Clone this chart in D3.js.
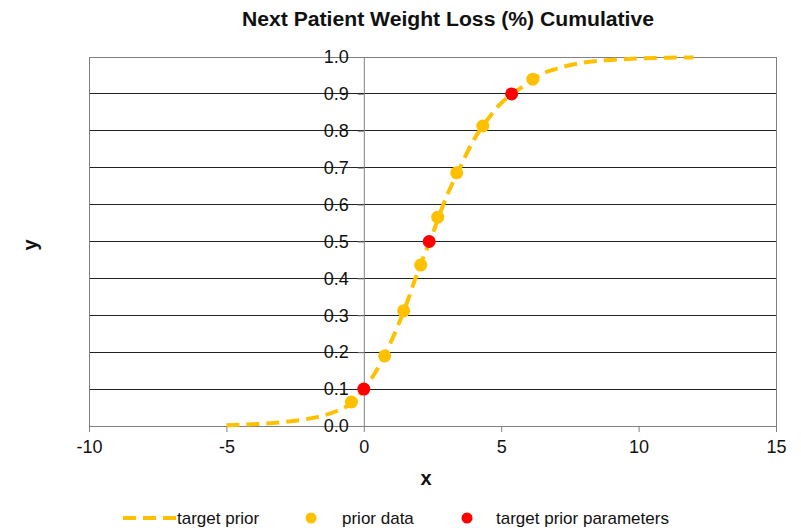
<!DOCTYPE html>
<html><head><meta charset="utf-8">
<script src="https://cdn.jsdelivr.net/npm/d3@7"></script>
<style>body{margin:0;background:#fff;}svg{display:block;font-family:"Liberation Sans",Arial,sans-serif;}</style>
</head><body>
<script>
// Target prior cumulative curve
const curveX = [-5, -4, -3, -2, -1.5, -1, -0.5, 0, 0.5, 1, 1.5, 2, 2.4, 3, 3.5, 4, 4.5, 5, 5.4, 6, 6.5, 7, 8, 9, 10, 11, 12];
const curveY = [0.002, 0.005, 0.01, 0.02, 0.028, 0.04, 0.06, 0.1, 0.155, 0.23, 0.32, 0.425, 0.5, 0.62, 0.7, 0.775, 0.83, 0.875, 0.9, 0.93, 0.955, 0.968, 0.985, 0.992, 0.996, 0.998, 0.999];
// prior data
const priorX = [-0.45, 0.76, 1.45, 2.07, 2.69, 3.38, 4.33, 6.15];
const priorY = [0.065, 0.19, 0.312, 0.436, 0.566, 0.686, 0.813, 0.94];
// target prior parameters
const paramX = [0, 2.38, 5.38];
const paramY = [0.1, 0.5, 0.9];
const xTicks = [-10, -5, 0, 5, 10, 15];
const yTicks = [0, 0.1, 0.2, 0.3, 0.4, 0.5, 0.6, 0.7, 0.8, 0.9, 1.0];
const legendLabels = ["target prior", "prior data", "target prior parameters"];

const W = 801, H = 528;
const L = 89, R = 776, T = 57, B = 426;
const gold = "#FFC000", red = "#FF0000";
const FF = "Liberation Sans, Arial, sans-serif";

const svg = d3.select("body").append("svg").attr("width", W).attr("height", H);
const x = d3.scaleLinear().domain([-10, 15]).range([L, R]);
const y = d3.scaleLinear().domain([0, 1]).range([B, T]);

// title
svg.append("text").attr("x", 448).attr("y", 26).attr("text-anchor", "middle")
  .attr("font-size", 20).attr("font-weight", "bold").attr("fill", "#111")
  .attr("textLength", 412).attr("lengthAdjust", "spacingAndGlyphs")
  .text("Next Patient Weight Loss (%) Cumulative");

// gridlines
svg.append("g").selectAll("line").data(yTicks).join("line")
  .attr("x1", L).attr("x2", R).attr("y1", d => y(d)).attr("y2", d => y(d))
  .attr("stroke", "#222").attr("stroke-width", 1).attr("shape-rendering", "crispEdges");
// plot border
svg.append("rect").attr("x", L).attr("y", T).attr("width", R - L).attr("height", B - T)
  .attr("fill", "none").attr("stroke", "#808080").attr("shape-rendering", "crispEdges");

// x axis at y=0
const xAxis = d3.axisBottom(x).tickValues(xTicks).tickSize(6).tickPadding(8).tickFormat(d => String(d));
const gx = svg.append("g").attr("transform", `translate(0,${B})`).call(xAxis);
gx.select(".domain").attr("stroke", "#808080");
gx.selectAll(".tick line").attr("stroke", "#808080");
gx.selectAll("text").attr("font-size", 18).attr("fill", "#111").attr("font-family", FF);

// y axis at x=0
const yAxis = d3.axisLeft(y).tickValues(yTicks).tickSize(6).tickPadding(9).tickFormat(d3.format(".1f"));
const gy = svg.append("g").attr("transform", `translate(${x(0)},0)`).call(yAxis);
gy.select(".domain").attr("stroke", "#808080");
gy.selectAll(".tick line").attr("stroke", "#808080");
gy.selectAll("text").attr("font-size", 18).attr("fill", "#111").attr("font-family", FF);

// axis titles
svg.append("text").attr("x", 426).attr("y", 485).attr("text-anchor", "middle")
  .attr("font-size", 20).attr("font-weight", "bold").attr("fill", "#111").text("x");
svg.append("text").attr("transform", "translate(37,245) rotate(-90)").attr("text-anchor", "middle")
  .attr("font-size", 20).attr("font-weight", "bold").attr("fill", "#111").text("y");

// curve
const line = d3.line().x(d => x(d[0])).y(d => y(d[1])).curve(d3.curveMonotoneX);
svg.append("path").datum(d3.zip(curveX, curveY)).attr("d", line)
  .attr("fill", "none").attr("stroke", gold).attr("stroke-width", 4)
  .attr("stroke-dasharray", "13,7");

// prior data points
svg.append("g").selectAll("circle").data(d3.zip(priorX, priorY)).join("circle")
  .attr("cx", d => x(d[0])).attr("cy", d => y(d[1])).attr("r", 6.5).attr("fill", gold);
// target prior parameters
svg.append("g").selectAll("circle").data(d3.zip(paramX, paramY)).join("circle")
  .attr("cx", d => x(d[0])).attr("cy", d => y(d[1])).attr("r", 6.5).attr("fill", red);

// legend
const ly = 518;
const lg = svg.append("g").attr("font-size", 17).attr("fill", "#111");
lg.append("line").attr("x1", 123).attr("x2", 176).attr("y1", ly).attr("y2", ly)
  .attr("stroke", gold).attr("stroke-width", 4).attr("stroke-dasharray", "13,7");
lg.append("text").attr("x", 177).attr("y", ly + 6).text(legendLabels[0]);
lg.append("circle").attr("cx", 311).attr("cy", ly).attr("r", 5.5).attr("fill", gold);
lg.append("text").attr("x", 342).attr("y", ly + 6).text(legendLabels[1]);
lg.append("circle").attr("cx", 467).attr("cy", ly).attr("r", 5.5).attr("fill", red);
lg.append("text").attr("x", 496).attr("y", ly + 6).text(legendLabels[2]);
</script>
</body></html>
